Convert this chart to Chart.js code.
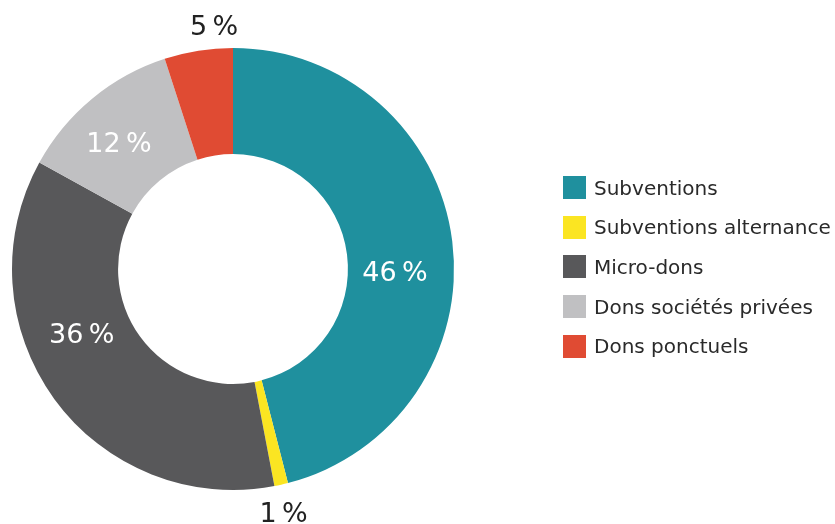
<!DOCTYPE html>
<html lang="fr">
<head>
<meta charset="utf-8">
<script src="https://cdn.jsdelivr.net/npm/chart.js@4/dist/chart.umd.min.js"></script>
<style>
    html, body { margin: 0; padding: 0; background: #fff; }
    #wrap { position: relative; width: 835px; height: 524px; }
    #legend { position: absolute; left: 563px; top: 176px; margin: 0; padding: 0; list-style: none;
              font-family: "DejaVu Sans", sans-serif; font-size: 20px; color: #2a2a2a; }
    #legend li { display: flex; align-items: center; height: 23px; margin-bottom: 16.7px; white-space: nowrap; }
    #legend .box { width: 23px; height: 23px; margin-right: 8px; flex: none; }
</style>
</head>
<body>
<div id="wrap">
    <canvas id="donutChart" width="835" height="524"></canvas>
    <ul id="legend"></ul>
</div>
<script>
// ── Données ──────────────────────────────────────────────────────────────────
const categories = ['Subventions', 'Subventions alternance', 'Micro-dons', 'Dons sociétés privées', 'Dons ponctuels'];
const valeurs = [46, 1, 36, 12, 5];
const couleurs = ['#1f909e', '#fbe522', '#58585a', '#c0c0c2', '#e04b33'];
const etiquettes = ['46\u2009%', '1\u2009%', '36\u2009%', '12\u2009%', '5\u2009%'];

// placement des étiquettes : décalage angulaire (degrés) et distance au centre relative au rayon extérieur
const decalageAngle = [9, 1, 12, -3, 4.5];
const rayonRelatif = [0.733, 1.137, 0.749, 0.762, 1.094];

// ── Étiquettes de pourcentage ────────────────────────────────────────────────
const pctLabels = {
    id: 'pctLabels',
    afterDatasetsDraw(chart) {
        const ctx = chart.ctx;
        const meta = chart.getDatasetMeta(0);
        ctx.save();
        ctx.font = '27px "DejaVu Sans", sans-serif';
        ctx.textAlign = 'center';
        ctx.textBaseline = 'middle';
        meta.data.forEach((arc, i) => {
            const p = arc.getProps(['x', 'y', 'startAngle', 'endAngle', 'outerRadius']);
            const mid = (p.startAngle + p.endAngle) / 2 + decalageAngle[i] * Math.PI / 180;
            const r = p.outerRadius * rayonRelatif[i];
            ctx.fillStyle = rayonRelatif[i] > 1 ? '#222' : '#fff';
            ctx.fillText(etiquettes[i], p.x + Math.cos(mid) * r, p.y + Math.sin(mid) * r);
        });
        ctx.restore();
    }
};

new Chart(document.getElementById('donutChart'), {
    type: 'doughnut',
    data: {
        labels: categories,
        datasets: [{
            data: valeurs,
            backgroundColor: couleurs,
            borderWidth: 0,
        }]
    },
    options: {
        responsive: false,
        animation: false,
        cutout: '52%',
        layout: { padding: { left: 12, top: 48, right: 381, bottom: 34 } },
        plugins: { legend: { display: false }, tooltip: { enabled: false } }
    },
    plugins: [pctLabels]
});

// ── Légende HTML ─────────────────────────────────────────────────────────────
const legend = document.getElementById('legend');
categories.forEach((nom, i) => {
    const li = document.createElement('li');
    li.innerHTML = `<span class="box" style="background:${couleurs[i]}"></span>${nom}`;
    legend.appendChild(li);
});
</script>
</body>
</html>
